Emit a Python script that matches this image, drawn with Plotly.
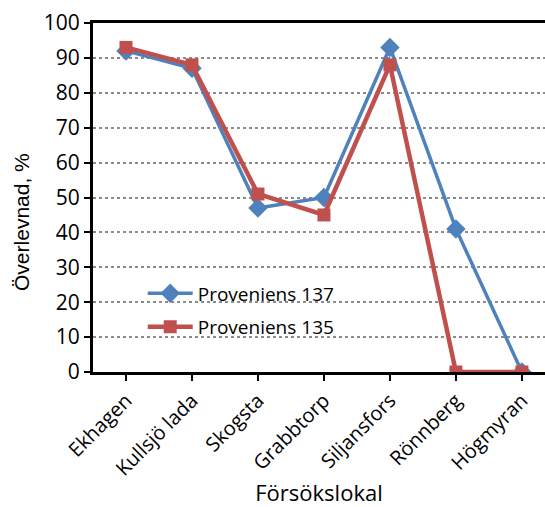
import plotly.graph_objects as go

# Survival per trial site for two provenances
sites = ["Ekhagen", "Kullsjö lada", "Skogsta", "Grabbtorp", "Siljansfors", "Rönnberg", "Högmyran"]
prov_137 = [92, 87, 47, 50, 93, 41, 0]
prov_135 = [93, 88, 51, 45, 88, 0, 0]

BLUE = "#4F81BD"
RED = "#C0504D"
FONT = "Open Sans"

fig = go.Figure()
fig.add_trace(go.Scatter(
    x=sites, y=prov_137, name="Proveniens 137", mode="lines+markers",
    line=dict(color=BLUE, width=3.5),
    marker=dict(symbol="diamond", size=15, color=BLUE),
    legendgroup="a",
))
fig.add_trace(go.Scatter(
    x=sites, y=prov_135, name="Proveniens 135", mode="lines+markers",
    line=dict(color=RED, width=4.5),
    marker=dict(symbol="square", size=13, color=RED),
    legendgroup="b",
))

fig.update_layout(
    width=545, height=507,
    margin=dict(l=93, r=0, t=23, b=135),
    paper_bgcolor="white", plot_bgcolor="white",
    font=dict(family=FONT, size=19, color="black"),
    showlegend=True,
    legend=dict(
        x=0.11, y=0.28, xanchor="left", yanchor="top",
        bgcolor="rgba(0,0,0,0)", font=dict(size=19),
        tracegroupgap=6, itemwidth=45,
    ),
    xaxis=dict(
        type="category", range=[-0.5, 6.35], automargin=False,
        showline=True, linecolor="black", linewidth=3, mirror=True,
        ticks="outside", ticklen=6, tickwidth=2, tickcolor="black",
        tickangle=-45, tickfont=dict(size=20),
        showgrid=False, zeroline=False,
        title=dict(text="Försökslokal", font=dict(size=22), standoff=17),
    ),
    yaxis=dict(
        range=[0, 100], dtick=10, automargin=False,
        showline=True, linecolor="black", linewidth=3,
        ticks="outside", ticklen=6, tickwidth=2, tickcolor="black",
        tickfont=dict(size=21),
        showgrid=True, gridcolor="#8c8c8c", gridwidth=1.5, griddash="dot",
        zeroline=False,
    ),
    annotations=[dict(
        text="Överlevnad, %", textangle=-90,
        xref="paper", yref="paper", x=-0.157, y=0.43,
        xanchor="center", yanchor="middle", showarrow=False,
        font=dict(family="Liberation Sans", size=21, color="black"),
    )],
)

fig.write_html("out.html")
